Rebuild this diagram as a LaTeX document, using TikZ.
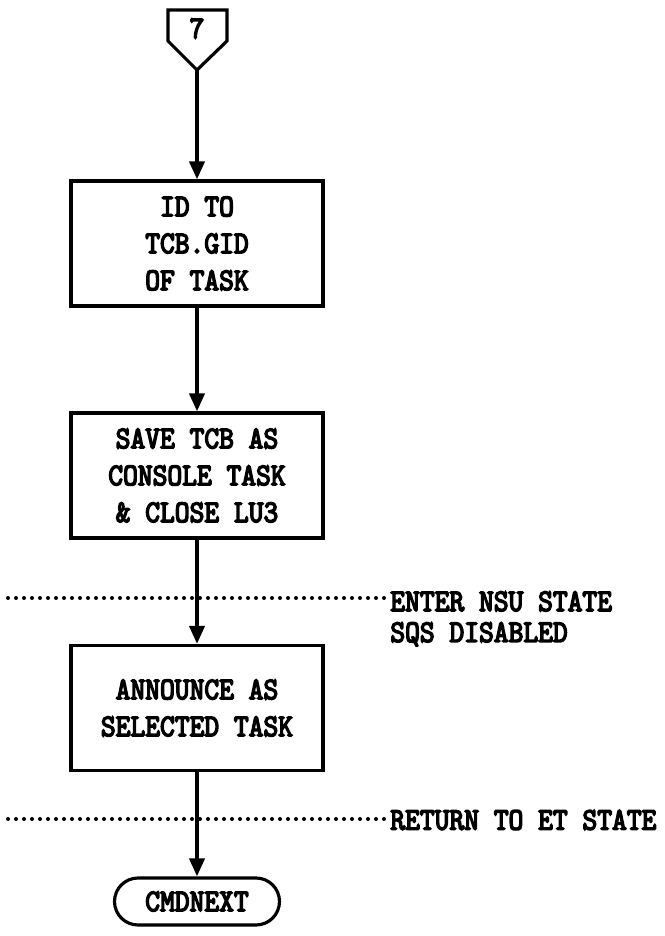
\documentclass[tikz,border=0pt]{standalone}
\usepackage{fontspec}
\usetikzlibrary{arrows.meta}

\newfontfamily\plotfont{lmmono10-regular.otf}[FakeBold=4.5, FakeStretch=0.89]

\tikzset{
  txt/.style={font=\fontsize{18}{21}\selectfont\plotfont},
  procbox/.style={txt, draw, line width=1.8pt, minimum width=5.04cm,
    minimum height=2.5cm, align=center},
  termbox/.style={txt, draw, line width=1.8pt, rounded corners=0.47cm,
    minimum width=3.3cm, minimum height=0.94cm},
  flow/.style={line width=2.2pt, -{Triangle[length=0.36cm,width=0.3cm]}},
  dotline/.style={line width=0.08cm, line cap=round, dash pattern=on 0pt off 0.16cm},
  note/.style={txt, inner sep=0pt, align=left}
}

\begin{document}
\begin{tikzpicture}

\useasboundingbox (0,0) rectangle (13.3,18.72);

% соединитель 7
\draw[line width=1.8pt, line join=miter]
  (3.36,18.52) -- (4.54,18.52) -- (4.54,17.90) -- (3.94,17.32)
  -- (3.36,17.90) -- cycle;
\node[txt] (num) at (3.94,18.15) {7};
\coordinate (con7) at (3.94,17.32);

% блоки
\node[procbox] (id) at (3.94,13.85) {ID TO\\TCB.GID\\OF TASK};
\node[procbox] (save) at (3.94,9.21) {SAVE TCB AS\\CONSOLE TASK\\\& CLOSE LU3};
\node[procbox] (ann) at (3.94,4.56) {ANNOUNCE AS\\SELECTED TASK};
\node[termbox] (cmd) at (3.94,0.69) {CMDNEXT};

% стрелки
\draw[flow] (con7) -- (id);
\draw[flow] (id) -- (save);
\draw[flow] (save) -- (ann);
\draw[flow] (ann) -- (cmd);

% состояния
\coordinate (nsuw) at (0.16,6.76);
\coordinate (nsue) at (7.7,6.76);
\draw[dotline] (nsuw) -- (nsue);
\node[note, anchor=north west] (nsu) at (7.8,6.9) {ENTER NSU STATE\\[-3.4pt]SQS DISABLED};

\coordinate (etw) at (0.16,2.34);
\coordinate (ete) at (7.7,2.34);
\draw[dotline] (etw) -- (ete);
\node[note, anchor=west] (et) at (7.8,2.32) {RETURN TO ET STATE};

\end{tikzpicture}
\end{document}
